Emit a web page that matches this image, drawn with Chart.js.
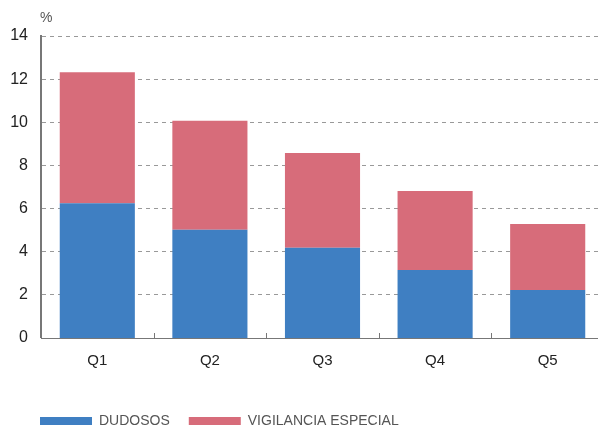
<!DOCTYPE html>
<html>
<head>
<meta charset="utf-8">
<script src="https://cdn.jsdelivr.net/npm/chart.js@4/dist/chart.umd.min.js"></script>
<style>
  html, body { margin: 0; padding: 0; background: #fff; }
  #wrap { width: 598px; height: 430px; overflow: hidden; }
</style>
</head>
<body>
<div id="wrap"><canvas id="chart" width="604" height="438"></canvas></div>
<script>
// Data
const categories = ['Q1', 'Q2', 'Q3', 'Q4', 'Q5'];
const dudosos = [6.25, 5.02, 4.18, 3.15, 2.22];
const vigilancia = [6.07, 5.05, 4.40, 3.67, 3.07];
const yTicks = [0, 2, 4, 6, 8, 10, 12, 14];

const fontFamily = '"Liberation Sans", Arial, sans-serif';

// Small inward tick marks between categories, "%" unit label, legend shift
const extras = {
  id: 'extras',
  afterLayout(chart) {
    // legend starts under the y axis in the reference
    chart.legend.left += 21;
    chart.legend.right += 21;
  },
  afterDraw(chart) {
    const ctx = chart.ctx;
    const x = chart.scales.x;
    const y = chart.scales.y;
    ctx.save();
    ctx.strokeStyle = '#777';
    ctx.lineWidth = 1;
    for (let i = 1; i < categories.length; i++) {
      const px = Math.round((x.getPixelForValue(i - 1) + x.getPixelForValue(i)) / 2) + 0.5;
      ctx.beginPath();
      ctx.moveTo(px, y.bottom);
      ctx.lineTo(px, y.bottom - 5);
      ctx.stroke();
    }
    ctx.fillStyle = '#555';
    ctx.font = '14px ' + fontFamily;
    ctx.textBaseline = 'middle';
    ctx.fillText('%', 40, 18);
    ctx.restore();
  }
};

new Chart(document.getElementById('chart'), {
  type: 'bar',
  data: {
    labels: categories,
    datasets: [
      { label: 'DUDOSOS', data: dudosos, backgroundColor: '#3f7fc2' },
      { label: 'VIGILANCIA ESPECIAL', data: vigilancia, backgroundColor: '#d76c7a' }
    ]
  },
  options: {
    responsive: false,
    animation: false,
    layout: { padding: { top: 36, right: 0, left: 0, bottom: 0 } },
    datasets: { bar: { barPercentage: 0.667, categoryPercentage: 1 } },
    plugins: {
      tooltip: { enabled: false },
      legend: {
        position: 'bottom',
        align: 'start',
        labels: {
          boxWidth: 52,
          boxHeight: 8,
          color: '#555',
          padding: 19,
          font: { family: fontFamily, size: 14 }
        }
      }
    },
    scales: {
      x: {
        stacked: true,
        afterFit(scale) { scale.height += 19; },
        grid: { display: false },
        border: { display: true, color: '#777', width: 1 },
        ticks: { color: '#222', padding: 6, font: { family: fontFamily, size: 15 } }
      },
      y: {
        stacked: true,
        min: 0,
        max: 14,
        afterFit(scale) { scale.width = 41; },
        afterBuildTicks(scale) { scale.ticks = yTicks.map(v => ({ value: v })); },
        grid: { color: '#999', drawTicks: false, lineWidth: ctx => ctx.tick.value === 0 ? 0 : 1 },
        border: { display: true, color: '#777', width: 2, dash: [4, 4] },
        ticks: { color: '#222', padding: 13, font: { family: fontFamily, size: 16 } }
      }
    }
  },
  plugins: [extras]
});
</script>
</body>
</html>
